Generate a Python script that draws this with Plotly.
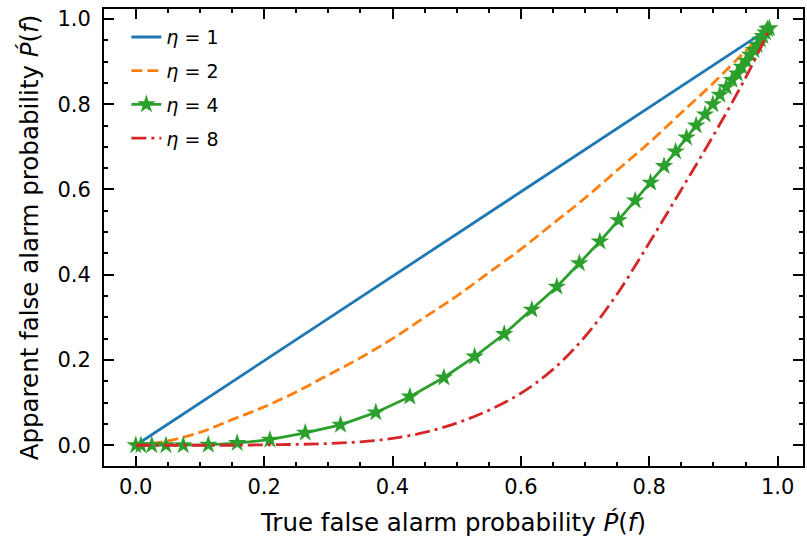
import plotly.graph_objects as go

# ---- data ----
eta_labels = ["<i>η</i> = 1", "<i>η</i> = 2", "<i>η</i> = 4", "<i>η</i> = 8"]

x_eta1 = [0.0, 0.987]
y_eta1 = [0.0, 0.978]

x_eta2 = [0.0, 0.05, 0.1, 0.15, 0.2, 0.25, 0.3, 0.35, 0.4, 0.45, 0.5, 0.55, 0.6,
          0.65, 0.7, 0.75, 0.8, 0.85, 0.9, 0.95, 0.987]
y_eta2 = [0.0, 0.01, 0.03, 0.06, 0.09, 0.125, 0.165, 0.205, 0.25, 0.30, 0.35, 0.405,
          0.46, 0.52, 0.58, 0.645, 0.71, 0.78, 0.85, 0.925, 0.978]

x_eta4 = [0.0, 0.008, 0.025, 0.047, 0.074, 0.113, 0.158, 0.209, 0.264, 0.319, 0.374,
          0.427, 0.480, 0.528, 0.574, 0.617, 0.656, 0.691, 0.723, 0.752, 0.778, 0.802,
          0.823, 0.841, 0.858, 0.873, 0.887, 0.899, 0.910, 0.920, 0.929, 0.937, 0.944,
          0.951, 0.957, 0.963, 0.968, 0.973, 0.977, 0.981, 0.984, 0.987]
y_eta4 = [0.0, 0.0, 0.0, 0.0, 0.0, 0.001, 0.005, 0.013, 0.029, 0.048, 0.077,
          0.114, 0.159, 0.208, 0.261, 0.318, 0.372, 0.427, 0.478, 0.528, 0.574, 0.616,
          0.655, 0.689, 0.722, 0.750, 0.776, 0.800, 0.822, 0.840, 0.857, 0.872, 0.888,
          0.902, 0.916, 0.927, 0.939, 0.951, 0.960, 0.968, 0.976, 0.978]

x_eta8 = [0.0, 0.05, 0.1, 0.15, 0.2, 0.25, 0.3, 0.35, 0.4, 0.45, 0.5, 0.55, 0.6,
          0.65, 0.7, 0.75, 0.8, 0.85, 0.9, 0.95, 0.987]
y_eta8 = [0.0, 0.0, 0.0, 0.0, 0.001, 0.002, 0.004, 0.008, 0.016, 0.03, 0.052, 0.082,
          0.122, 0.178, 0.255, 0.355, 0.475, 0.600, 0.727, 0.862, 0.975]

x_ticks = [0.0, 0.2, 0.4, 0.6, 0.8, 1.0]
y_ticks = [0.0, 0.2, 0.4, 0.6, 0.8, 1.0]

colors = ["#1f77b4", "#ff7f0e", "#2ca02c", "#d62728"]
FONT = "DejaVu Sans"
LW = 2.8

fig = go.Figure()
fig.add_trace(go.Scatter(x=x_eta1, y=y_eta1, mode="lines", name=eta_labels[0],
                         legendgroup="a",
                         line=dict(color=colors[0], width=LW)))
fig.add_trace(go.Scatter(x=x_eta2, y=y_eta2, mode="lines", name=eta_labels[1],
                         legendgroup="b",
                         line=dict(color=colors[1], width=LW, dash="11px,5px",
                                   shape="spline", smoothing=1.0)))
fig.add_trace(go.Scatter(x=x_eta4, y=y_eta4, mode="lines+markers", name=eta_labels[2],
                         legendgroup="c",
                         line=dict(color=colors[2], width=LW),
                         marker=dict(symbol="star", size=14, color=colors[2])))
fig.add_trace(go.Scatter(x=x_eta8, y=y_eta8, mode="lines", name=eta_labels[3],
                         legendgroup="d",
                         line=dict(color=colors[3], width=LW, dash="15px,5px,3px,5px",
                                   shape="spline", smoothing=1.0)))

axis_common = dict(
    showgrid=False, zeroline=False, showline=True, linecolor="black", linewidth=2,
    mirror="ticks", ticks="inside", ticklen=10, tickwidth=2, tickcolor="black",
    tickfont=dict(family=FONT, size=21, color="black"),
    tickformat=".1f",
    minor=dict(ticks="inside", ticklen=4, tickwidth=1.5, tickcolor="black", dtick=0.05),
)

fig.update_xaxes(range=[-0.0495, 1.0395], tickvals=x_ticks, ticklabelstandoff=1,
                 title=dict(text="True false alarm probability <i>Ṕ</i>(<i>f</i>)",
                            font=dict(family=FONT, size=24.5, color="black"), standoff=16),
                 **axis_common)
fig.update_yaxes(range=[-0.0487, 1.0234], tickvals=y_ticks, ticklabelstandoff=7,
                 title=dict(text="Apparent false alarm probability <i>Ṕ</i>(<i>f</i>)",
                            font=dict(family=FONT, size=24.5, color="black"), standoff=12),
                 **axis_common)

fig.update_layout(
    width=807, height=542,
    margin=dict(l=104, r=2, t=9, b=76),
    paper_bgcolor="white", plot_bgcolor="white",
    font=dict(family=FONT, size=20, color="black"),
    legend=dict(x=0.032, y=0.98, xanchor="left", yanchor="top",
                bgcolor="rgba(255,255,255,0)", borderwidth=0, tracegroupgap=6,
                font=dict(family=FONT, size=19, color="black")),
    showlegend=True,
)

fig.write_html("out.html")
